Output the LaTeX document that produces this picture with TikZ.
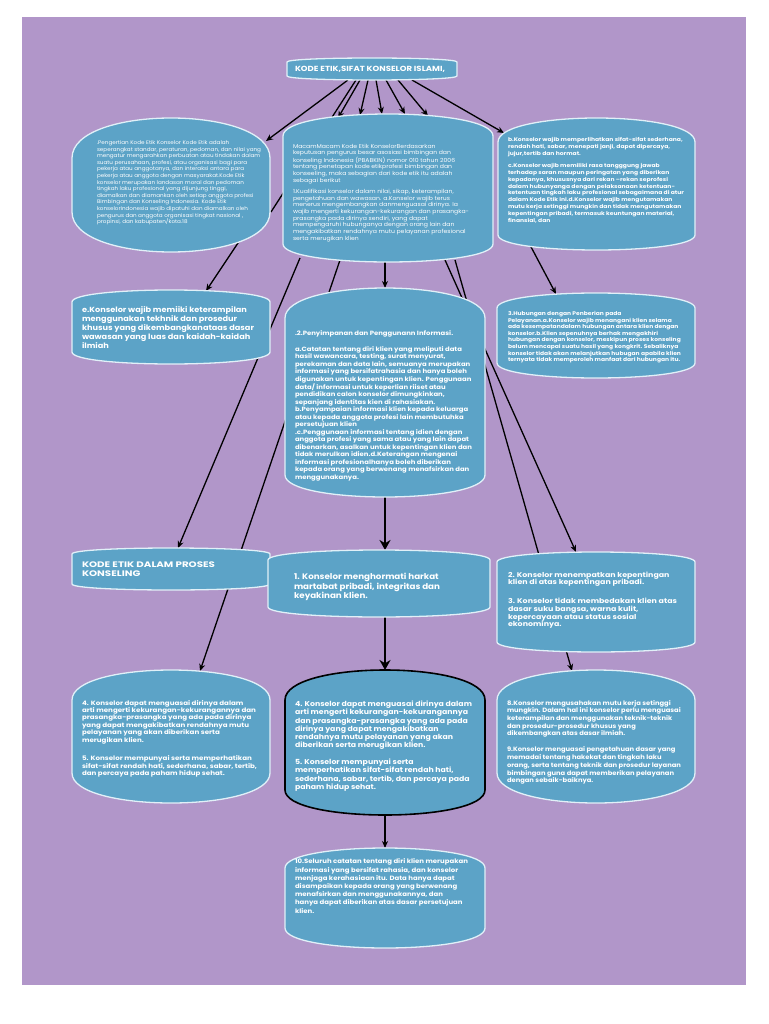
\documentclass[tikz,border=0pt]{standalone}
\usepackage{fontspec}
\usepackage{graphicx}
\setmainfont{Poppins}
\usetikzlibrary{arrows.meta}
\definecolor{bgpurple}{RGB}{177,150,201}
\definecolor{boxblue}{RGB}{92,163,199}
\definecolor{boxedge}{RGB}{225,240,248}
\pgfdeclarelayer{back}
\pgfdeclarelayer{lines}
\pgfsetlayers{back,lines,main}
\newcommand\shapebox[8]{%
  \path[#8] (#2,#3+#6) -- (#2,#5-#7) .. controls (#2,#5+#7/3) and (#4,#5+#7/3) .. (#4,#5-#7) -- (#4,#3+#6) .. controls (#4,#3-#6/3) and (#2,#3-#6/3) .. cycle;
  \node[inner sep=0pt,outer sep=0pt,minimum width={(#4-#2)*1pt},minimum height={(#5-#3)*1pt}] (#1) at ({(#2+#4)/2},{(#3+#5)/2}) {};
}
% text block: width, font size, leading, font switch, lines
\newcommand\tb[5]{\resizebox*{#1pt}{\totalheight}{#4\fontsize{#2}{#3}\selectfont\begin{tabular}{@{}l@{}}#5\end{tabular}}}
\tikzset{
  boxstyle/.style={fill=boxblue,draw=boxedge,line width=1.3pt},
  darkbox/.style={fill=boxblue,draw=black,line width=1.6pt},
  txt/.style={anchor=north west,inner sep=0pt,outer sep=0pt,text=white},
  arr/.style={draw=black,line width=1.3pt,-{Stealth[length=7pt,width=6pt]}},
  plain/.style={draw=black,line width=1.3pt},
  thickarr/.style={draw=black,line width=2.6pt,-{Stealth[length=10pt,width=11pt]}}
}
\begin{document}
\begin{tikzpicture}[x=1pt,y=-1pt]
\useasboundingbox (0,0) rectangle (768,1024);
\begin{pgfonlayer}{back}
\fill[white] (0,0) rectangle (768,1024);
\fill[bgpurple] (22,17) rectangle (746,985);
\end{pgfonlayer}

% boxes
\shapebox{T}{287}{58}{457}{80}{4}{4}{boxstyle}
\shapebox{A}{72}{118}{270}{252}{40}{40}{boxstyle}
\shapebox{B}{283}{114}{493}{262}{22}{18}{boxstyle}
\shapebox{C}{498}{118}{695}{250}{24}{15}{boxstyle}
\shapebox{E}{72}{290}{270}{364}{12}{12}{boxstyle}
\shapebox{P}{285}{288}{485}{497}{30}{22}{boxstyle}
\shapebox{H}{497}{293}{695}{378}{15}{15}{boxstyle}
\shapebox{K}{72}{548}{270}{590}{6}{6}{boxstyle}
\shapebox{S}{268}{550}{490}{617}{10}{10}{boxstyle}
\shapebox{R}{497}{552}{695}{652}{10}{10}{boxstyle}
\shapebox{L}{72}{670}{270}{803}{30}{30}{boxstyle}
\shapebox{M}{285}{670}{485}{815}{30}{25}{darkbox}
\shapebox{N}{497}{670}{695}{803}{30}{30}{boxstyle}
\shapebox{X}{285}{848}{485}{948}{20}{20}{boxstyle}

% texts
\node[txt,anchor=center] (tT) at (370,69.5) {\resizebox*{150pt}{\totalheight}{\bfseries\fontsize{7.4}{8}\selectfont KODE ETIK,SIFAT KONSELOR ISLAMI,}};

\node[txt] (tA) at (97,139.9) {\tb{164}{5.2}{6.6}{}{.Pengertian Kode Etik Konselor Kode Etik adalah\\
seperangkat standar, peraturan, pedoman, dan nilai yang\\
mengatur mengarahkan perbuatan atau tindakan dalam\\
suatu perusahaan, profesi, atau organisasi bagi para\\
pekerja atau anggotanya, dan interaksi antara para\\
pekerja atau anggota dengan masyarakat.Kode Etik\\
konselor merupakan landasan moral dan pedoman\\
tingkah laku profesional yang dijunjung tinggi,\\
diamalkan dan diamankan oleh setiap anggota profesi\\
Bimbingan dan Konseling Indonesia. Kode Etik\\
konselorIndonesia wajib dipatuhi dan diamalkan oleh\\
pengurus dan anggota organisasi tingkat nasional ,\\
propinsi, dan kabupaten/kota.18}};

\node[txt] (tB) at (293,143.5) {\tb{176}{5.6}{6.7}{}{MacamMacam Kode Etik KonselorBerdasarkan\\
keputusan pengurus besar asosiasi bimbingan dan\\
konseling Indonesia (PBABKIN) nomor 010 tahun 2006\\
tentang penetapan kode etikprofesi bimbingan dan\\
konseeling, maka sebagian dari kode etik itu adalah\\
sebagai berikut\\[4.4pt]
1.Kualifikasi konselor dalam nilai, sikap, keterampilan,\\
pengetahuan dan wawasan. a.Konselor wajib terus\\
menerus mengembangkan danmenguasai dirinya. Ia\\
wajib mengerti kekurangan-kekurangan dan prasangka-\\
prasangka pada dirinya sendiri, yang dapat\\
mempengaruhi hubunganya dengan orang lain dan\\
mengakibatkan rendahnya mutu pelayanan profesional\\
serta merugikan klien}};

\node[txt] (tC) at (508,136.8) {\tb{176}{5.2}{6.9}{\bfseries}{b.Konselor wajib memperlihatkan sifat-sifat sederhana,\\
rendah hati, sabar, menepati janji, dapat dipercaya,\\
jujur,tertib dan hormat.\\[5pt]
c.Konselor wajib memiliki rasa tangggung jawab\\
terhadap saran maupun peringatan yang diberikan\\
kepadanya, khususnya dari rekan –rekan seprofesi\\
dalam hubunyanga dengan pelaksanaan ketentuan-\\
ketentuan tingkah laku profesional sebagaimana di atur\\
dalam Kode Etik ini.d.Konselor wajib mengutamakan\\
mutu kerja setinggi mungkin dan tidak mengutamakan\\
kepentingan pribadi, termasuk keuntungan material,\\
finansial, dan}};

\node[txt] (tE) at (82,305.9) {\tb{172}{7.4}{9}{\bfseries}{e.Konselor wajib memiiki keterampilan\\
menggunakan tekhnik dan prosedur\\
khusus yang dikembangkanataas dasar\\
wawasan yang luas dan kaidah-kaidah\\
ilmiah}};

\node[txt] (tP) at (295,329.9) {\tb{177}{6.1}{7.5}{\bfseries}{.2.Penyimpanan dan Penggunann Informasi.\\[8.5pt]
a.Catatan tentang diri klien yang meliputi data\\
hasil wawancara, testing, surat menyurat,\\
perekaman dan data lain, semuanya merupakan\\
informasi yang bersifatrahasia dan hanya boleh\\
digunakan untuk kepentingan klien. Penggunaan\\
data/ informasi untuk keperlian riiset atau\\
pendidikan calon konselor dimungkinkan,\\
sepanjang identitas kien di rahasiakan.\\
b.Penyampaian informasi klien kepada keluarga\\
atau kepada anggota profesi lain membutuhka\\
persetujuan klien\\
.c.Penggunaan informasi tentang idien dengan\\
anggota profesi yang sama atau yang lain dapat\\
dibenarkan, asalkan untuk kepentingan klien dan\\
tidak merulkan idien.d.Keterangan mengenai\\
informasi profesionalhanya boleh diberikan\\
kepada orang yang berwenang menafsirkan dan\\
menggunakanya.}};

\node[txt] (tH) at (508,311) {\tb{173}{5.3}{6.57}{\bfseries}{3.Hubungan dengan Penberian pada\\
Pelayanan.a.Konselor wajib menangani klien selama\\
ada kesempatandalam hubungan antara klien dengan\\
konselor.b.Klien sepenuhnya berhak mengakhiri\\
hubungan dengan konselor, meskipun proses konseling\\
belum mencapai suatu hasil yang kongkrit. Sebaliknya\\
konselor tidak akan melanjutkan hubugan apabila klien\\
ternyata tidak memperoleh manfaat dari hubungan itu.}};

\node[txt] (tK) at (82,560.9) {\tb{133}{8}{9.3}{\bfseries}{KODE ETIK DALAM PROSES\\
KONSELING}};

\node[txt] (tS) at (294,573.2) {\tb{146}{8}{9.3}{\bfseries}{1. Konselor menghormati harkat\\
martabat pribadi, integritas dan\\
keyakinan klien.}};

\node[txt] (tR) at (508,571.8) {\tb{169}{6.8}{7.5}{\bfseries}{2. Konselor menempatkan kepentingan\\
klien di atas kepentingan pribadi.\\[11pt]
3. Konselor tidak membedakan klien atas\\
dasar suku bangsa, warna kulit,\\
kepercayaan atau status sosial\\
ekonominya.}};

\node[txt] (tL) at (82,700) {\tb{175}{6.2}{7.4}{\bfseries}{4. Konselor dapat menguasai dirinya dalam\\
arti mengerti kekurangan-kekurangannya dan\\
prasangka-prasangka yang ada pada dirinya\\
yang dapat mengakibatkan rendahnya mutu\\
pelayanan yang akan diberikan serta\\
merugikan klien.\\[11.2pt]
5. Konselor mempunyai serta memperhatikan\\
sifat-sifat rendah hati, sederhana, sabar, tertib,\\
dan percaya pada paham hidup sehat.}};

\node[txt] (tM) at (295,700.6) {\tb{177}{7}{8.3}{\bfseries}{4. Konselor dapat menguasai dirinya dalam\\
arti mengerti kekurangan-kekurangannya\\
dan prasangka-prasangka yang ada pada\\
dirinya yang dapat mengakibatkan\\
rendahnya mutu pelayanan yang akan\\
diberikan serta merugikan klien.\\[8.3pt]
5. Konselor mempunyai serta\\
memperhatikan sifat-sifat rendah hati,\\
sederhana, sabar, tertib, dan percaya pada\\
paham hidup sehat.}};

\node[txt] (tN) at (507,699.8) {\tb{174}{6.2}{7.7}{\bfseries}{8.Konselor mengusahakan mutu kerja setinggi\\
mungkin. Dalam hal ini konselor perlu menguasai\\
keterampilan dan menggunakan teknik-teknik\\
dan prosedur-prosedur khusus yang\\
dikembangkan atas dasar ilmiah.\\[8.3pt]
9.Konselor menguasai pengetahuan dasar yang\\
memadai tentang hakekat dan tingkah laku\\
orang, serta tentang teknik dan prosedur layanan\\
bimbingan guna dapat memberikan pelayanan\\
dengan sebaik-baiknya.}};

\node[txt] (tX) at (295,858.2) {\tb{173}{6.2}{8.2}{\bfseries}{10.Seluruh catatan tentang diri klien merupakan\\
informasi yang bersifat rahasia, dan konselor\\
menjaga kerahasiaan itu. Data hanya dapat\\
disampaikan kepada orang yang berwenang\\
menafsirkan dan menggunakannya, dan\\
hanya dapat diberikan atas dasar persetujuan\\
klien.}};

% connectors
\begin{pgfonlayer}{lines}
\draw[arr] ([shift={(61,0)}]T.south west) -- ([shift={(-4,23)}]A.north east);
\draw[plain] ([shift={(69,0)}]T.south west) -- ([shift={(1,94)}]A.north east);
\draw[arr] ([shift={(73,0)}]T.south west) -- ([shift={(55,4)}]B.north west);
\draw[arr] ([shift={(81,0)}]T.south west) -- ([shift={(77,1)}]B.north west);
\draw[arr] ([shift={(89,0)}]T.south west) -- ([shift={(99,0)}]B.north west);
\draw[arr] ([shift={(99,0)}]T.south west) -- ([shift={(122,0)}]B.north west);
\draw[arr] ([shift={(111,0)}]T.south west) -- ([shift={(145,2)}]B.north west);
\draw[arr] ([shift={(125,0)}]T.south west) -- ([shift={(6,15)}]C.north west);
\draw[arr] ([shift={(168,-12)}]A.south west) -- ([shift={(134,1)}]E.north west);
\draw[arr] ([shift={(102,0)}]B.south west) -- (P.north);
\draw[arr] ([shift={(17,-4)}]B.south west) -- ([shift={(106,0)}]K.north west);
\draw[arr] ([shift={(57,-2)}]B.south west) -- ([shift={(128,1)}]L.north west);
\draw[arr] ([shift={(32,-5)}]C.south west) -- ([shift={(59,1)}]H.north west);
\draw[arr] ([shift={(162,-2)}]B.south west) -- ([shift={(79,0)}]R.north west);
\draw[arr] ([shift={(172,-2)}]B.south west) -- ([shift={(75,1)}]N.north west);
\draw[thickarr] (P.south) -- ([shift={(117,0)}]S.north west);
\draw[thickarr] ([shift={(117,0)}]S.south west) -- (M.north);
\draw[arr] (M.south) -- (X.north);
\end{pgfonlayer}
\end{tikzpicture}
\end{document}
